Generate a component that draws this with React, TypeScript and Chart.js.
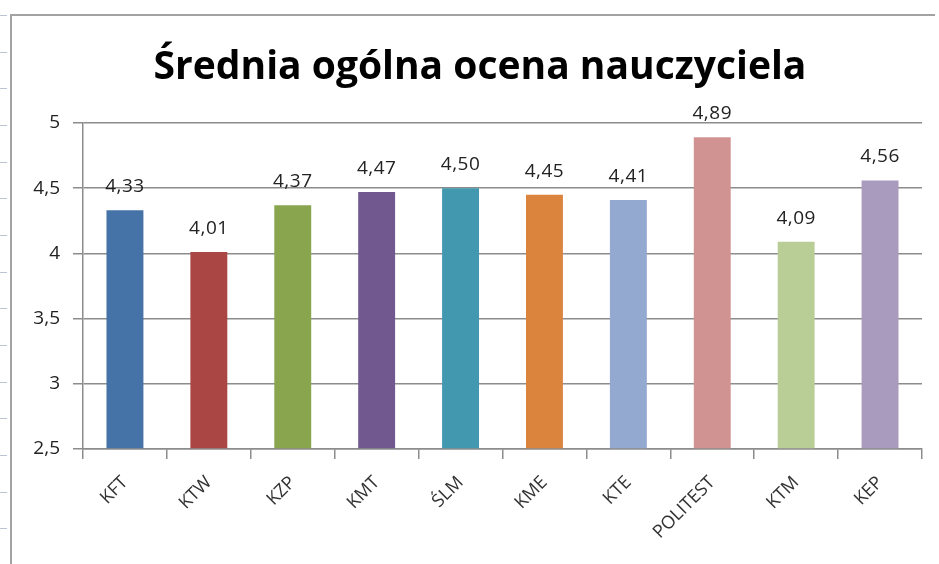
import React, { useEffect, useRef } from "react";
import { Chart, registerables } from "chart.js";

Chart.register(...registerables);

const categories = ["KFT", "KTW", "KZP", "KMT", "ŚLM", "KME", "KTE", "POLITEST", "KTM", "KEP"];
const values = [4.33, 4.01, 4.37, 4.47, 4.5, 4.45, 4.41, 4.89, 4.09, 4.56];
const barColors = ["#4572A7", "#AA4643", "#89A54E", "#71588F", "#4198AF", "#DB843D", "#93A9CF", "#D19392", "#B9CD96", "#A99BBD"];
const yTicks = [2.5, 3, 3.5, 4, 4.5, 5];
const titleText = "Średnia ogólna ocena nauczyciela";

const fmt = (v: number, d: number) => v.toFixed(d).replace(".", ",");

const dataLabels = {
  id: "dataLabels",
  afterDatasetsDraw(chart: any) {
    const ctx = chart.ctx;
    const meta = chart.getDatasetMeta(0);
    ctx.save();
    ctx.font = "19px 'Open Sans'";
    ctx.fillStyle = "#222";
    ctx.textAlign = "center";
    ctx.textBaseline = "alphabetic";
    try { (ctx as any).letterSpacing = "0.5px"; } catch (e) {}
    meta.data.forEach((bar: any, i: number) => {
      ctx.fillText(fmt(values[i], 2), bar.x, bar.y - 18);
    });
    ctx.restore();
  },
};

const chartTitle = {
  id: "chartTitle",
  afterDraw(chart: any) {
    const ctx = chart.ctx;
    ctx.save();
    ctx.font = "bold 39px 'Open Sans'";
    ctx.fillStyle = "#000";
    ctx.textAlign = "center";
    ctx.textBaseline = "alphabetic";
    ctx.fillText(titleText, 468, 62);
    ctx.restore();
  },
};

export default function App() {
  const ref = useRef<HTMLCanvasElement | null>(null);
  useEffect(() => {
    if (!ref.current) return;
    const gridColor = "#8c8c8c";
    const chart = new Chart(ref.current, {
      type: "bar",
      data: {
        labels: categories,
        datasets: [
          {
            data: values,
            backgroundColor: barColors,
            borderWidth: 0,
            barPercentage: 0.44,
            categoryPercentage: 1,
            base: 2.5,
          },
        ],
      },
      options: {
        responsive: false,
        animation: false,
        layout: { padding: { left: 0, right: 17, top: 106, bottom: 0 } },
        plugins: {
          legend: { display: false },
          tooltip: { enabled: false },
          title: { display: false },
        },
        scales: {
          x: {
            grid: {
              display: true,
              drawOnChartArea: false,
              drawTicks: true,
              tickLength: 10,
              offset: true,
              color: gridColor,
              lineWidth: 1.5,
            },
            border: { display: true, color: gridColor, width: 1.5 },
            ticks: {
              color: "#333",
              font: { family: "Open Sans", size: 18 },
              maxRotation: 45,
              minRotation: 45,
              padding: 13,
              autoSkip: false,
            },
            afterFit: (scale: any) => {
              scale.height = 115;
            },
          },
          y: {
            min: 2.5,
            max: 5,
            afterBuildTicks: (scale: any) => {
              scale.ticks = yTicks.map((v) => ({ value: v }));
            },
            grid: {
              color: gridColor,
              lineWidth: 1.5,
              tickLength: 10,
              drawTicks: true,
            },
            border: { display: true, color: gridColor, width: 1.5 },
            ticks: {
              color: "#222",
              font: { family: "Open Sans", size: 19 },
              padding: 13,
              callback: (v: any) => fmt(Number(v), Number(v) % 1 === 0 ? 0 : 1),
            },
            afterFit: (scale: any) => {
              scale.width = 71;
            },
          },
        },
      },
      plugins: [dataLabels, chartTitle],
    });
    return () => chart.destroy();
  }, []);

  return (
    <div style={{ position: "fixed", left: 0, top: 0, width: 939, height: 564, overflow: "hidden", background: "#fff" }}>
      <div
        style={{
          position: "absolute",
          left: 0,
          top: 15,
          width: 7,
          height: 549,
          background: "repeating-linear-gradient(to bottom, #bcc4d2 0px, #bcc4d2 1px, transparent 1px, transparent 36.67px)",
        }}
      />
      <div
        style={{
          position: "absolute",
          left: 10,
          top: 14,
          width: 925,
          height: 560,
          boxSizing: "border-box",
          borderTop: "2px solid #a3a3a3",
          borderLeft: "2px solid #a3a3a3",
        }}
      />
      <canvas
        ref={ref}
        width={927}
        height={547}
        style={{ position: "absolute", left: 12, top: 17, width: 927, height: 547 }}
      />
    </div>
  );
}
